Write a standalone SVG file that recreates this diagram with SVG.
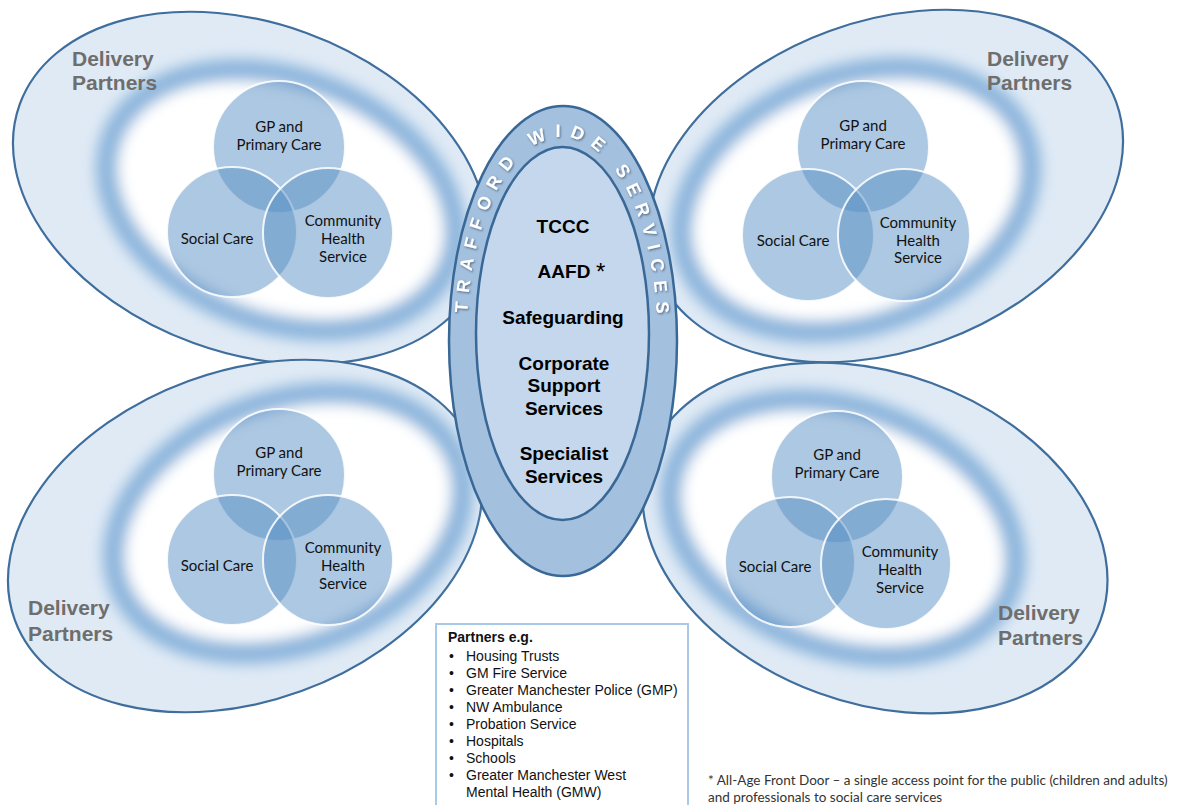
<svg xmlns="http://www.w3.org/2000/svg" width="1179" height="805" viewBox="0 0 1179 805">
<defs>
<filter id="blur" x="-20%" y="-20%" width="140%" height="140%"><feGaussianBlur stdDeviation="7"/></filter>
<filter id="shadow" x="-20%" y="-20%" width="140%" height="140%"><feDropShadow dx="1" dy="1.2" stdDeviation="0.8" flood-color="#3a4d63" flood-opacity="0.75"/></filter>
<path id="arc" d="M 467 333 A 95 196 0 0 1 657 333"/>
</defs>
<style>
.wing{fill:#dfeaf5;stroke:#3f6e9d;stroke-width:2.2}
.ring{fill:#fff;stroke:#8cb5dc;stroke-width:22;filter:url(#blur)}
.vc{fill:#578ec4;fill-opacity:.49;stroke:#fff;stroke-width:2;stroke-opacity:.85}
.vt{font-family:Lato,"Open Sans",sans-serif;font-size:15px;fill:#111;text-anchor:middle}
.dp{font-family:"Liberation Sans",Arial,sans-serif;font-weight:bold;font-size:21px;fill:#6e6e6e}
.ct{font-family:"Liberation Sans",Arial,sans-serif;font-weight:bold;font-size:19px;fill:#000;text-anchor:middle}
.arc{font-family:"Liberation Sans",Arial,sans-serif;font-weight:bold;font-size:18px;fill:#fff;letter-spacing:8.8px;filter:url(#shadow)}
.pt{font-family:"Liberation Sans",Arial,sans-serif;font-size:14px;fill:#111}
.fn{font-family:Lato,"Open Sans",sans-serif;font-size:13.5px;fill:#333}
</style>
<rect width="1179" height="805" fill="#fff"/>

<g id="wing-top-left">
<ellipse class="wing" cx="250" cy="188" rx="245" ry="165" transform="rotate(20 250 188)"/>
<ellipse class="ring" cx="281" cy="200" rx="180" ry="122" transform="rotate(20 281 200)"/>
<text class="dp" x="72" y="66">Delivery</text>
<text class="dp" x="72" y="90">Partners</text>
<g id="tl-gp"><circle class="vc" cx="279" cy="147" r="66"/><text class="vt" x="279" y="132">GP and</text><text class="vt" x="279" y="150">Primary Care</text></g>
<g id="tl-social"><circle class="vc" cx="232" cy="232" r="65"/><text class="vt" x="217" y="244">Social Care</text></g>
<g id="tl-community"><circle class="vc" cx="328" cy="233" r="65"/><text class="vt" x="343" y="226">Community</text><text class="vt" x="343" y="244">Health</text><text class="vt" x="343" y="262">Service</text></g>
</g>

<g id="wing-top-right">
<ellipse class="wing" cx="886" cy="186" rx="245" ry="165" transform="rotate(-20 886 186)"/>
<ellipse class="ring" cx="856" cy="200" rx="180" ry="124" transform="rotate(-20 856 200)"/>
<text class="dp" x="987" y="66">Delivery</text>
<text class="dp" x="987" y="90">Partners</text>
<g id="tr-gp"><circle class="vc" cx="863" cy="147" r="66"/><text class="vt" x="863" y="131">GP and</text><text class="vt" x="863" y="149">Primary Care</text></g>
<g id="tr-social"><circle class="vc" cx="808" cy="235" r="66"/><text class="vt" x="793" y="246">Social Care</text></g>
<g id="tr-community"><circle class="vc" cx="904" cy="235" r="66"/><text class="vt" x="918" y="228">Community</text><text class="vt" x="918" y="246">Health</text><text class="vt" x="918" y="263">Service</text></g>
</g>

<g id="wing-bottom-left">
<ellipse class="wing" cx="245" cy="536" rx="245" ry="165" transform="rotate(-20 245 536)"/>
<ellipse class="ring" cx="288" cy="523" rx="180" ry="122" transform="rotate(-20 288 523)"/>
<text class="dp" x="28" y="615">Delivery</text>
<text class="dp" x="28" y="641">Partners</text>
<g id="bl-gp"><circle class="vc" cx="279" cy="475" r="66"/><text class="vt" x="279" y="458">GP and</text><text class="vt" x="279" y="476">Primary Care</text></g>
<g id="bl-social"><circle class="vc" cx="232" cy="560" r="65"/><text class="vt" x="217" y="571">Social Care</text></g>
<g id="bl-community"><circle class="vc" cx="328" cy="560" r="65"/><text class="vt" x="343" y="553">Community</text><text class="vt" x="343" y="571">Health</text><text class="vt" x="343" y="589">Service</text></g>
</g>

<g id="wing-bottom-right">
<ellipse class="wing" cx="875" cy="538" rx="240" ry="165" transform="rotate(20 875 538)"/>
<ellipse class="ring" cx="843" cy="528" rx="178" ry="120" transform="rotate(20 843 528)"/>
<text class="dp" x="998" y="620">Delivery</text>
<text class="dp" x="998" y="645">Partners</text>
<g id="br-gp"><circle class="vc" cx="837" cy="477" r="66"/><text class="vt" x="837" y="460">GP and</text><text class="vt" x="837" y="478">Primary Care</text></g>
<g id="br-social"><circle class="vc" cx="790" cy="562" r="65"/><text class="vt" x="775" y="572">Social Care</text></g>
<g id="br-community"><circle class="vc" cx="886" cy="564" r="65"/><text class="vt" x="900" y="557">Community</text><text class="vt" x="900" y="575">Health</text><text class="vt" x="900" y="593">Service</text></g>
</g>

<g id="trafford-wide-services">
<ellipse cx="563" cy="341" rx="114" ry="235" fill="#a3c1df" stroke="#3a6896" stroke-width="2.5"/>
<ellipse cx="562.5" cy="333.5" rx="86.5" ry="186.5" fill="#c4d7ec" stroke="#3a6896" stroke-width="2.5"/>
<text class="arc"><textPath href="#arc" startOffset="20">TRAFFORD</textPath></text>
<text class="arc"><textPath href="#arc" startOffset="203">WIDE</textPath></text>
<text class="arc"><textPath href="#arc" startOffset="299">SERVICES</textPath></text>
<text class="ct" x="563" y="233">TCCC</text>
<text class="ct" x="564" y="278">AAFD</text>
<text x="596" y="280" font-family="Liberation Sans, Arial, sans-serif" font-size="24" fill="#000">*</text>
<text class="ct" x="563" y="324">Safeguarding</text>
<text class="ct" x="564" y="370">Corporate</text>
<text class="ct" x="564" y="392">Support</text>
<text class="ct" x="564" y="415">Services</text>
<text class="ct" x="564" y="460">Specialist</text>
<text class="ct" x="564" y="483">Services</text>
</g>

<g id="connectors"/>

<g id="partners-box">
<rect x="436" y="624" width="252" height="195" fill="#fff" stroke="#a9c9e8" stroke-width="2"/>
<text class="pt" x="448" y="642" font-weight="bold">Partners e.g.</text>
<text class="pt" x="449" y="661">•</text><text class="pt" x="466" y="661">Housing Trusts</text>
<text class="pt" x="449" y="678">•</text><text class="pt" x="466" y="678">GM Fire Service</text>
<text class="pt" x="449" y="695">•</text><text class="pt" x="466" y="695">Greater Manchester Police (GMP)</text>
<text class="pt" x="449" y="712">•</text><text class="pt" x="466" y="712">NW Ambulance</text>
<text class="pt" x="449" y="729">•</text><text class="pt" x="466" y="729">Probation Service</text>
<text class="pt" x="449" y="746">•</text><text class="pt" x="466" y="746">Hospitals</text>
<text class="pt" x="449" y="763">•</text><text class="pt" x="466" y="763">Schools</text>
<text class="pt" x="449" y="780">•</text><text class="pt" x="466" y="780">Greater Manchester West</text>
<text class="pt" x="466" y="797">Mental Health (GMW)</text>
</g>

<g id="footnote">
<text class="fn" x="708" y="785">* All-Age Front Door – a single access point for the public (children and adults)</text>
<text class="fn" x="708" y="802">and professionals to social care services</text>
</g>
</svg>
